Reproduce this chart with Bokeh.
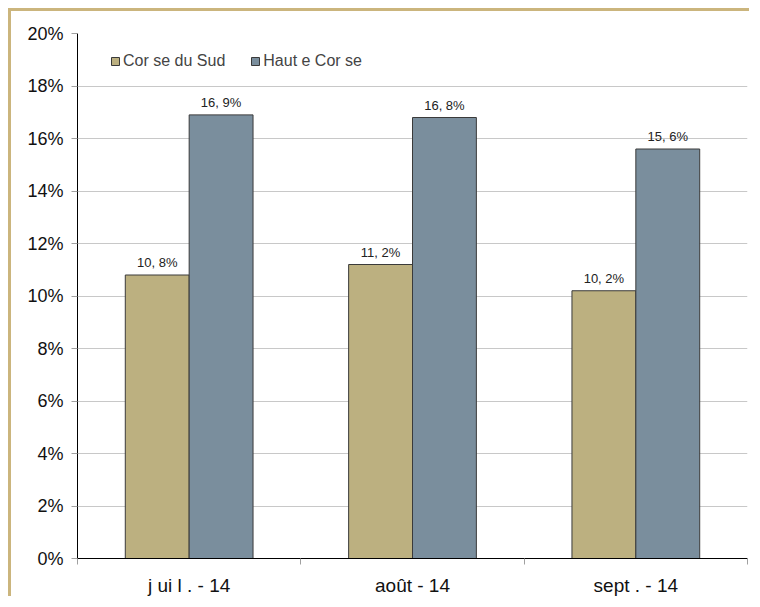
from bokeh.plotting import figure
from bokeh.models import FixedTicker, Legend, LegendItem, ColumnDataSource, LabelSet
from bokeh.core.properties import value
from bokeh.embed import file_html
from bokeh.resources import INLINE

months = ["j ui l . - 14", "août - 14", "sept . - 14"]
series_names = ["Cor se du Sud", "Haut e Cor se"]
corse_du_sud = [10.8, 11.2, 10.2]
haute_corse = [16.9, 16.8, 15.6]
colors = ["#BCB080", "#7A8E9D"]
y_ticks = [0, 2, 4, 6, 8, 10, 12, 14, 16, 18, 20]

FONT = "Liberation Sans"

p = figure(width=741, height=588, output_backend="svg", toolbar_location=None,
           x_range=(0, 3), y_range=(0, 20),
           min_border_left=66, min_border_top=22, min_border_right=5, min_border_bottom=41)
p.styles = {"border-top": "3px solid #CBB57D", "border-left": "3px solid #CBB57D",
            "margin-left": "8px", "margin-top": "8px"}
p.outline_line_color = None
p.xgrid.grid_line_color = None
p.ygrid.grid_line_color = "#C8C8C8"
p.ygrid.ticker = FixedTicker(ticks=y_ticks)

centers = [i + 0.5 for i in range(len(months))]
bw = 0.286
renderers = []
for k, (vals, col) in enumerate(zip([corse_du_sud, haute_corse], colors)):
    xs = [c + (k - 0.5) * bw for c in centers]
    src = ColumnDataSource(dict(x=xs, top=vals,
                                lab=[f"{v:.1f}".replace(".", ", ") + "%" for v in vals]))
    r = p.vbar(x="x", top="top", width=bw, source=src, fill_color=col,
               line_color="#3A3A3A", line_width=1)
    renderers.append(r)
    p.add_layout(LabelSet(x="x", y="top", text="lab", source=src, text_align="center",
                          text_baseline="bottom", y_offset=5, text_font=value(FONT),
                          text_font_size="13px", text_color="#222222"))

p.yaxis.ticker = FixedTicker(ticks=y_ticks)
p.yaxis.major_label_overrides = {t: f"{t}%" for t in y_ticks}
p.yaxis.axis_line_color = "black"
p.yaxis.major_tick_line_color = "#A0A0A0"
p.yaxis.major_tick_out = 6
p.yaxis.major_tick_in = 0
p.yaxis.minor_tick_line_color = None
p.yaxis.major_label_standoff = 8

p.xaxis.ticker = FixedTicker(ticks=centers, minor_ticks=list(range(len(months) + 1)))
p.xaxis.major_label_overrides = {c: m for c, m in zip(centers, months)}
p.xaxis.axis_line_color = "black"
p.xaxis.major_tick_line_color = None
p.xaxis.minor_tick_line_color = "#A0A0A0"
p.xaxis.minor_tick_out = 6
p.xaxis.minor_tick_in = 0
p.xaxis.major_label_standoff = 10

for ax in (p.xaxis, p.yaxis):
    ax.major_label_text_font = FONT
    ax.major_label_text_color = "#111111"
p.yaxis.major_label_text_font_size = "18px"
p.xaxis.major_label_text_font_size = "19px"

legend = Legend(items=[LegendItem(label=n, renderers=[r]) for n, r in zip(series_names, renderers)],
                orientation="horizontal", location=(33, 488), padding=0, margin=0,
                border_line_color=None, background_fill_alpha=0,
                glyph_width=10, glyph_height=10, label_standoff=3, spacing=25,
                label_text_font=FONT, label_text_font_size="16px")
p.add_layout(legend)

open("out.html", "w").write(file_html(p, INLINE))
